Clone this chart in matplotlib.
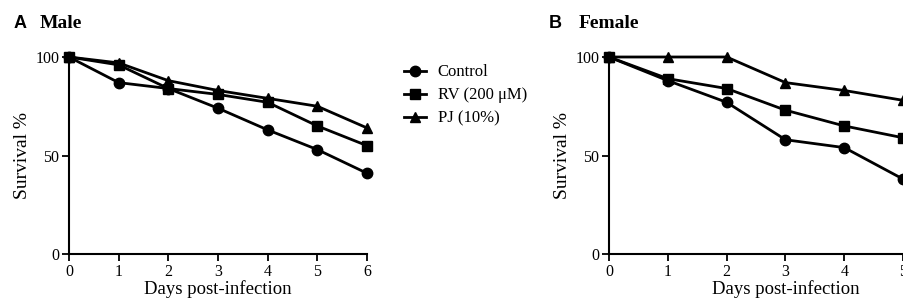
import matplotlib.pyplot as plt

# Survival data
days = [0, 1, 2, 3, 4, 5, 6]
male_control = [100, 87, 84, 74, 63, 53, 41]
male_rv = [100, 96, 84, 81, 77, 65, 55]
male_pj = [100, 97, 88, 83, 79, 75, 64]

# female panel is cut at day 5 in the source picture
days_f = [0, 1, 2, 3, 4, 5]
female_control = [100, 88, 77, 58, 54, 38]
female_rv = [100, 89, 84, 73, 65, 59]
female_pj = [100, 100, 100, 87, 83, 78]

labels = ["Control", "RV (200 \u03bcM)", "PJ (10%)"]
markers = ["o", "s", "^"]

serif = "Liberation Serif"
sans = "Liberation Sans"

fig = plt.figure(figsize=(9.04, 3.04), dpi=100)


def style_axes(ax):
    ax.set_xlim(0, 6)
    ax.set_ylim(0, 100)
    ax.set_xticks(days)
    ax.set_yticks([0, 50, 100])
    for side in ["top", "right"]:
        ax.spines[side].set_visible(False)
    for side in ["left", "bottom"]:
        ax.spines[side].set_linewidth(1.5)
    ax.tick_params(direction="out", length=5, width=1.3, labelsize=11.5, pad=2)
    for lab in ax.get_xticklabels() + ax.get_yticklabels():
        lab.set_fontfamily(serif)
    ax.set_xlabel("Days post-infection", fontsize=13.5, family=serif, labelpad=0)
    ax.set_ylabel("Survival %", fontsize=14, family=serif, labelpad=3)


# Panel A
ax1 = fig.add_axes([69 / 904, 50 / 304, 298 / 904, 197 / 304])
lines = []
for y, m, lab in zip([male_control, male_rv, male_pj], markers, labels):
    ln, = ax1.plot(days, y, color="black", lw=2, marker=m, ms=7.5, label=lab,
                   clip_on=False, zorder=3)
    lines.append(ln)
style_axes(ax1)

# Panel B (extends beyond the right edge, as in the source)
ax2 = fig.add_axes([609 / 904, 50 / 304, 353 / 904, 197 / 304])
for y, m in zip([female_control, female_rv, female_pj], markers):
    ax2.plot(days_f, y, color="black", lw=2, marker=m, ms=7.5,
             clip_on=False, zorder=3)
style_axes(ax2)

# Legend
fig.legend(handles=lines, labels=labels, loc="upper left",
           bbox_to_anchor=(396 / 904, 1 - 56 / 304), frameon=False,
           prop={"family": serif, "size": 12}, handlelength=1.3,
           handletextpad=0.7, labelspacing=0.42, borderpad=0)

# Panel titles
fig.text(14 / 904, 1 - 23 / 304, "A", family=sans, weight="bold",
         fontsize=13, va="center")
fig.text(40 / 904, 1 - 23 / 304, "Male", family=serif, weight="bold",
         fontsize=14, va="center")
fig.text(549 / 904, 1 - 23 / 304, "B", family=sans, weight="bold",
         fontsize=13, va="center")
fig.text(579 / 904, 1 - 23 / 304, "Female", family=serif, weight="bold",
         fontsize=14, va="center")

fig.savefig("out.png", dpi=100)
